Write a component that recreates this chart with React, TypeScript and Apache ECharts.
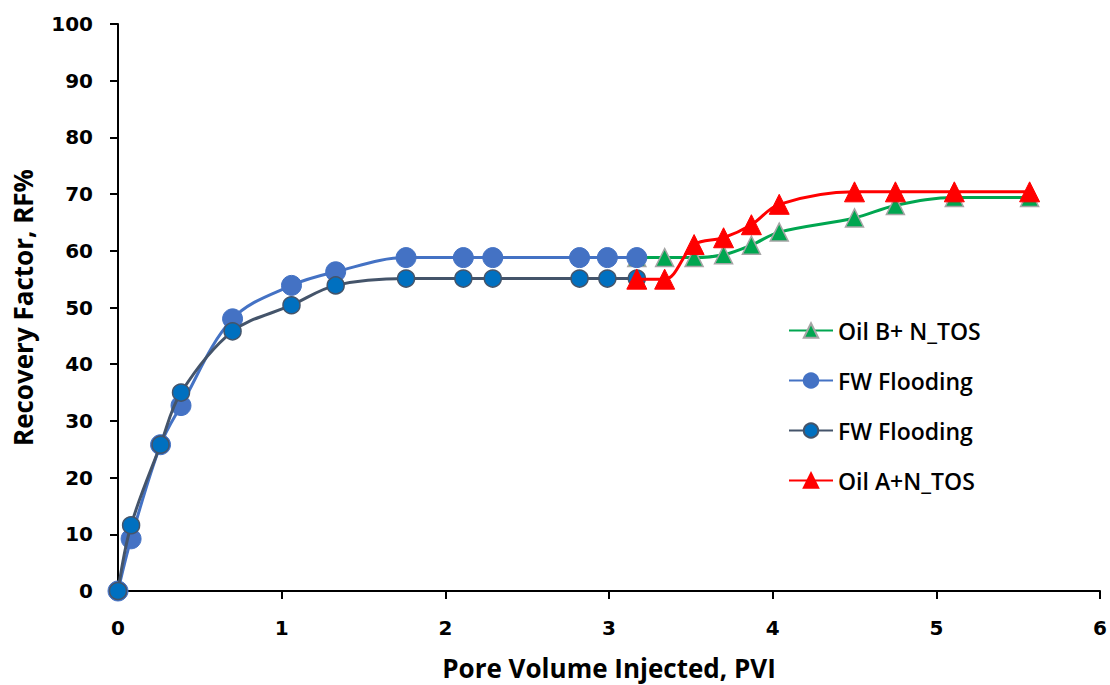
import React, { useEffect, useRef } from "react";
import * as echarts from "echarts";

const xTicks = [0, 1, 2, 3, 4, 5, 6];
const yTicks = [0, 10, 20, 30, 40, 50, 60, 70, 80, 90, 100];

const fwLightPVI = [0, 0.08, 0.26, 0.385, 0.70, 1.06, 1.33, 1.76, 2.11, 2.29, 2.82, 2.99, 3.17];
const fwLightRF = [0, 9.2, 25.8, 32.7, 48.0, 53.9, 56.3, 58.8, 58.8, 58.8, 58.8, 58.8, 58.8];

const fwDarkPVI = [0, 0.08, 0.26, 0.385, 0.70, 1.06, 1.33, 1.76, 2.11, 2.29, 2.82, 2.99, 3.17];
const fwDarkRF = [0, 11.6, 25.8, 35.0, 45.8, 50.4, 53.9, 55.1, 55.1, 55.1, 55.1, 55.1, 55.1];

const oilBPVI = [3.17, 3.34, 3.52, 3.70, 3.87, 4.04, 4.50, 4.75, 5.11, 5.57];
const oilBRF = [58.8, 58.8, 58.8, 59.3, 61.0, 63.3, 65.8, 68.0, 69.4, 69.4];

const oilAPVI = [3.17, 3.34, 3.52, 3.70, 3.87, 4.04, 4.50, 4.75, 5.11, 5.57];
const oilARF = [55.0, 55.0, 61.1, 62.3, 64.6, 68.2, 70.4, 70.4, 70.4, 70.4];

const zip = (xs: number[], ys: number[]) => xs.map((x, i) => [x, ys[i]]);

export default function App() {
  const ref = useRef<HTMLDivElement>(null);
  useEffect(() => {
    if (!ref.current) return;
    const chart = echarts.init(ref.current, undefined, { renderer: "svg" });
    const tickFont = { fontFamily: "DejaVu Sans", fontWeight: "bold", fontSize: 20, color: "#000" };
    const titleFont = { fontFamily: "Open Sans", fontWeight: "bold", fontSize: 26, color: "#000" };
    chart.setOption({
      animation: false,
      backgroundColor: "#fff",
      grid: { left: 118, right: 10, top: 24, bottom: 94, containLabel: false, outerBoundsMode: "none" },
      xAxis: {
        type: "value",
        min: 0,
        max: 6,
        interval: 1,
        name: "Pore Volume Injected, PVI",
        nameLocation: "middle",
        nameGap: 64,
        nameTextStyle: titleFont,
        axisLine: { show: true, lineStyle: { color: "#000", width: 2 } },
        axisTick: { show: true, inside: false, length: 8, lineStyle: { color: "#000", width: 2 } },
        axisLabel: { ...tickFont, margin: 27, formatter: (v: number) => (xTicks.includes(v) ? String(v) : "") },
        splitLine: { show: false },
      },
      yAxis: {
        type: "value",
        min: 0,
        max: 100,
        interval: 10,
        name: "Recovery Factor, RF%",
        nameLocation: "middle",
        nameGap: 82,
        nameRotate: 90,
        nameTextStyle: titleFont,
        axisLine: { show: true, lineStyle: { color: "#000", width: 2 } },
        axisTick: { show: true, inside: false, length: 8, lineStyle: { color: "#000", width: 2 } },
        axisLabel: { ...tickFont, margin: 25, formatter: (v: number) => (yTicks.includes(v) ? String(v) : "") },
        splitLine: { show: false },
      },
      legend: {
        orient: "vertical",
        left: 788,
        top: 318,
        padding: 0,
        itemWidth: 44,
        itemHeight: 18,
        itemGap: 25,
        textStyle: { fontFamily: "Open Sans", fontWeight: 600, fontSize: 23, color: "#000", lineHeight: 25 },
        data: ["Oil B+ N_TOS", "FW Flooding", "FW Flooding ", "Oil A+N_TOS"],
        formatter: (n: string) => n.trim(),
      },
      series: [
        {
          name: "Oil B+ N_TOS",
          type: "line",
          smooth: 0.35,
          data: zip(oilBPVI, oilBRF),
          symbol: "triangle",
          symbolSize: 18,
          lineStyle: { color: "#00A650", width: 3 },
          itemStyle: { color: "#00A650", borderColor: "#A5A5A5", borderWidth: 1.5 },
          z: 2,
        },
        {
          name: "FW Flooding",
          type: "line",
          smooth: 0.35,
          data: zip(fwLightPVI, fwLightRF),
          symbol: "circle",
          symbolSize: 20,
          lineStyle: { color: "#4472C4", width: 3 },
          itemStyle: { color: "#4472C4", borderColor: "#4472C4", borderWidth: 1 },
          z: 3,
        },
        {
          name: "FW Flooding ",
          type: "line",
          smooth: 0.35,
          data: zip(fwDarkPVI, fwDarkRF),
          symbol: "circle",
          symbolSize: 17,
          lineStyle: { color: "#44546A", width: 3 },
          itemStyle: { color: "#0070C0", borderColor: "#44546A", borderWidth: 1.5 },
          z: 4,
        },
        {
          name: "Oil A+N_TOS",
          type: "line",
          smooth: 0.35,
          data: zip(oilAPVI, oilARF),
          symbol: "triangle",
          symbolSize: 20,
          lineStyle: { color: "#FF0000", width: 3 },
          itemStyle: { color: "#FF0000", borderColor: "#FF0000", borderWidth: 1 },
          z: 5,
        },
      ],
    });
    return () => chart.dispose();
  }, []);
  return <div ref={ref} style={{ width: 1110, height: 685, position: "absolute", left: 0, top: 0 }} />;
}
